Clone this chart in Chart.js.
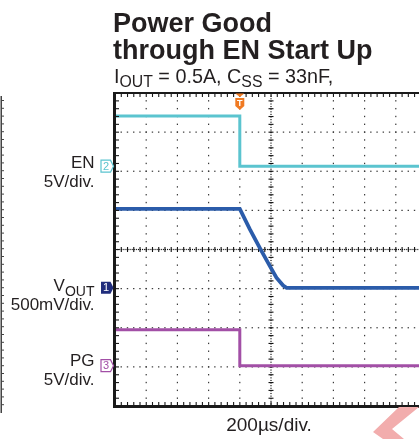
<!DOCTYPE html>
<html><head><meta charset="utf-8">
<script src="https://cdn.jsdelivr.net/npm/chart.js@4/dist/chart.umd.min.js"></script>
<style>
html,body{margin:0;padding:0;background:#fff;overflow:hidden;width:419px;height:439px}
#wrap{position:absolute;left:0;top:0;width:460px;height:439px}
</style></head><body>
<div id="wrap"><canvas id="c" width="460" height="439"></canvas></div>
<script>
// Time base: microseconds relative to the trigger, 200 µs per division
const timeDivUs = 200;
const timeStartUs = -800;
const timeDivisions = 10;
const voltDivisions = 8;

// EN (channel 2), 5 V/div
const enTimeUs = [-800, 0, 0, 1200];
const enVolts  = [6.4, 6.4, 0, 0];

// VOUT (channel 1), 500 mV/div
const voutTimeUs = [-800, 0, 64, 128, 192, 235, 278, 300, 1200];
const voutVolts  = [1.01, 1.01, 0.75, 0.51, 0.28, 0.13, 0.03, 0, 0];

// PG (channel 3), 5 V/div
const pgTimeUs = [-800, 0, 0, 1200];
const pgVolts  = [4.6, 4.6, 0, 0];

// Trigger position
const triggerTimeUs = 0;

// Text
const titleLines = ['Power Good', 'through EN Start Up'];
const conditionParts = [['I', 0], ['OUT', 1], [' = 0.5A, C', 0], ['SS', 1], [' = 33nF,', 0]];
const timeScaleLabel = '200µs/div.';

// Channel settings: volts per division and ground reference (in divisions from bottom)
const channels = [
  { label: [['EN', 0]], scaleText: '5V/div.', num: '2', vPerDiv: 5, ground: 6.13,
    color: '#5bc4cf', width: 3, filled: false, t: enTimeUs, v: enVolts,
    labelY: 168, scaleY: 187 },
  { label: [['V', 0], ['OUT', 1]], scaleText: '500mV/div.', num: '1', vPerDiv: 0.5, ground: 3.02,
    color: '#2b5caa', width: 3.8, filled: true, markColor: '#1f2c7c', t: voutTimeUs, v: voutVolts,
    labelY: 291, scaleY: 310 },
  { label: [['PG', 0]], scaleText: '5V/div.', num: '3', vPerDiv: 5, ground: 1.03,
    color: '#a24fa6', width: 3, filled: false, t: pgTimeUs, v: pgVolts,
    labelY: 366, scaleY: 385 }
];

const FONT = '"Liberation Sans", Arial, Helvetica, sans-serif';

function toPoints(ch) {
  return ch.t.map((t, i) => ({ x: t, y: ch.ground + ch.v[i] / ch.vPerDiv }));
}

// Text with subscript runs: parts = [[text, isSub], ...]
function drawRich(ctx, parts, x, y, size, subSize, subDrop, align, weight) {
  const w = weight || '';
  let total = 0;
  parts.forEach(([s, sub]) => {
    ctx.font = `${w} ${sub ? subSize : size}px ${FONT}`;
    total += ctx.measureText(s).width;
  });
  let cx = align === 'right' ? x - total : x;
  ctx.textAlign = 'left';
  ctx.textBaseline = 'alphabetic';
  parts.forEach(([s, sub]) => {
    ctx.font = `${w} ${sub ? subSize : size}px ${FONT}`;
    ctx.fillText(s, cx, sub ? y + subDrop : y);
    cx += ctx.measureText(s).width;
  });
}

const graticule = {
  id: 'graticule',
  beforeDatasetsDraw(chart) {
    const { ctx, chartArea: a } = chart;
    const dx = (a.right - a.left) / timeDivisions;
    const dy = (a.bottom - a.top) / voltDivisions;
    ctx.save();
    ctx.fillStyle = '#3a3a3a';
    // dotted division lines
    for (let i = 1; i < timeDivisions; i++) {
      if (i === timeDivisions / 2) continue;
      const px = a.left + i * dx;
      for (let k = 1; k < voltDivisions * 5; k++) {
        ctx.fillRect(px - 0.6, a.top + k * dy / 5 - 0.7, 1.2, 1.4);
      }
    }
    for (let j = 1; j < voltDivisions; j++) {
      if (j === voltDivisions / 2) continue;
      const py = a.top + j * dy;
      for (let k = 1; k < timeDivisions * 5; k++) {
        ctx.fillRect(a.left + k * dx / 5 - 0.7, py - 0.6, 1.4, 1.2);
      }
    }
    // center axes with minor ticks
    ctx.fillStyle = '#111';
    const cxp = a.left + dx * timeDivisions / 2;
    const cyp = a.top + dy * voltDivisions / 2;
    for (let k = 0; k < voltDivisions * 15; k++) {
      ctx.fillRect(cxp - 0.6, a.top + k * dy / 15, 1.2, 1.1);
    }
    for (let k = 1; k < voltDivisions * 5; k++) {
      ctx.fillRect(cxp - 2.5, a.top + k * dy / 5 - 0.5, 5, 1.1);
    }
    for (let k = 0; k < timeDivisions * 15; k++) {
      ctx.fillRect(a.left + k * dx / 15, cyp - 0.6, 1.1, 1.2);
    }
    for (let k = 1; k < timeDivisions * 5; k++) {
      ctx.fillRect(a.left + k * dx / 5 - 0.5, cyp - 2.5, 1.1, 5);
    }
    ctx.restore();
  },
  afterDatasetsDraw(chart) {
    const { ctx, chartArea: a, scales: { x, y } } = chart;
    const dx = (a.right - a.left) / timeDivisions;
    const dy = (a.bottom - a.top) / voltDivisions;
    ctx.save();
    ctx.fillStyle = '#1a1a1a';
    // frame
    ctx.fillRect(a.left - 2, a.top - 1, 3, a.bottom - a.top + 2.5);
    ctx.fillRect(a.left - 2, a.bottom - 1, a.right - a.left + 4, 3);
    ctx.fillRect(a.left - 2, a.top - 1, a.right - a.left + 4, 2);
    ctx.fillRect(a.right - 1, a.top - 1, 2, a.bottom - a.top + 2.5);
    // inner ticks along the frame
    for (let k = 1; k < timeDivisions * 5; k++) {
      const px = a.left + k * dx / 5;
      ctx.fillRect(px - 0.5, a.bottom - 4, 1.1, 3);
      ctx.fillRect(px - 0.5, a.top + 1, 1.1, 3);
    }
    for (let k = 1; k < voltDivisions * 5; k++) {
      const py = a.top + k * dy / 5;
      ctx.fillRect(a.left + 1, py - 0.5, 3, 1.1);
    }

    // trigger marker
    const tx = x.getPixelForValue(triggerTimeUs);
    ctx.fillStyle = '#f07a22';
    ctx.beginPath();
    ctx.moveTo(tx - 4.5, a.top + 0.5); ctx.lineTo(tx + 4.5, a.top + 0.5); ctx.lineTo(tx, a.top + 4);
    ctx.closePath(); ctx.fill();
    ctx.beginPath();
    ctx.moveTo(tx - 4.5, a.top + 5); ctx.lineTo(tx + 4.5, a.top + 5);
    ctx.lineTo(tx + 4.5, a.top + 13); ctx.lineTo(tx, a.top + 17); ctx.lineTo(tx - 4.5, a.top + 13);
    ctx.closePath(); ctx.fill();
    ctx.fillStyle = '#fff';
    ctx.font = `bold 9px ${FONT}`;
    ctx.textAlign = 'center'; ctx.textBaseline = 'alphabetic';
    ctx.fillText('T', tx, a.top + 13);

    // channel ground markers and labels
    channels.forEach(ch => {
      const gy = y.getPixelForValue(ch.ground);
      const right = a.left - 1.5;
      const left = right - 12.5;
      ctx.beginPath();
      ctx.moveTo(left, gy - 6); ctx.lineTo(right - 3, gy - 6); ctx.lineTo(right, gy);
      ctx.lineTo(right - 3, gy + 6); ctx.lineTo(left, gy + 6); ctx.closePath();
      if (ch.filled) {
        ctx.fillStyle = ch.markColor; ctx.fill();
        ctx.fillStyle = '#fff';
      } else {
        ctx.fillStyle = '#fff'; ctx.fill();
        ctx.strokeStyle = ch.color; ctx.lineWidth = 1.2; ctx.stroke();
        ctx.fillStyle = ch.color;
      }
      ctx.font = `11px ${FONT}`;
      ctx.textAlign = 'center'; ctx.textBaseline = 'middle';
      ctx.fillText(ch.num, left + 5, gy + 0.5);

      ctx.fillStyle = '#231f20';
      drawRich(ctx, ch.label, 94.5, ch.labelY, 17, 14, 5, 'right');
      ctx.font = `17px ${FONT}`;
      ctx.textAlign = 'right'; ctx.textBaseline = 'alphabetic';
      ctx.fillText(ch.scaleText, 94.5, ch.scaleY);
    });
    ctx.restore();
  },
  afterDraw(chart) {
    const { ctx } = chart;
    ctx.save();
    ctx.fillStyle = '#231f20';
    ctx.font = `bold 27px ${FONT}`;
    ctx.textAlign = 'left'; ctx.textBaseline = 'alphabetic';
    ctx.fillText(titleLines[0], 113, 31.5);
    ctx.fillText(titleLines[1], 113, 58.5);
    drawRich(ctx, conditionParts, 114, 83, 19.8, 15.8, 4, 'left');

    ctx.font = `19px ${FONT}`;
    ctx.textAlign = 'center';
    ctx.fillText(timeScaleLabel, 269, 431);

    // neighbouring frame edge on the far left
    ctx.fillStyle = '#444';
    ctx.fillRect(0.5, 96, 1.5, 317);
    for (let py = 100; py < 412; py += 7.8) ctx.fillRect(2, py, 2, 1);

    // corner logo fragment
    ctx.fillStyle = '#f2adad';
    ctx.beginPath();
    ctx.moveTo(399, 407); ctx.lineTo(419, 407); ctx.lineTo(392, 429);
    ctx.lineTo(404, 439); ctx.lineTo(383, 439); ctx.lineTo(373, 432);
    ctx.closePath(); ctx.fill();
    ctx.restore();
  }
};

new Chart(document.getElementById('c'), {
  type: 'line',
  data: {
    datasets: channels.map(ch => ({
      label: ch.num,
      data: toPoints(ch),
      borderColor: ch.color,
      borderWidth: ch.width,
      pointRadius: 0,
      tension: 0,
      fill: false,
      borderCapStyle: 'butt',
      borderJoinStyle: 'miter'
    }))
  },
  options: {
    responsive: false,
    animation: false,
    events: [],
    layout: { padding: { left: 115, right: 33, top: 93, bottom: 33 } },
    plugins: { legend: { display: false }, tooltip: { enabled: false } },
    scales: {
      x: { type: 'linear', display: false, min: timeStartUs, max: timeStartUs + timeDivUs * timeDivisions },
      y: { type: 'linear', display: false, min: 0, max: voltDivisions }
    }
  },
  plugins: [graticule]
});
</script>
</body></html>
